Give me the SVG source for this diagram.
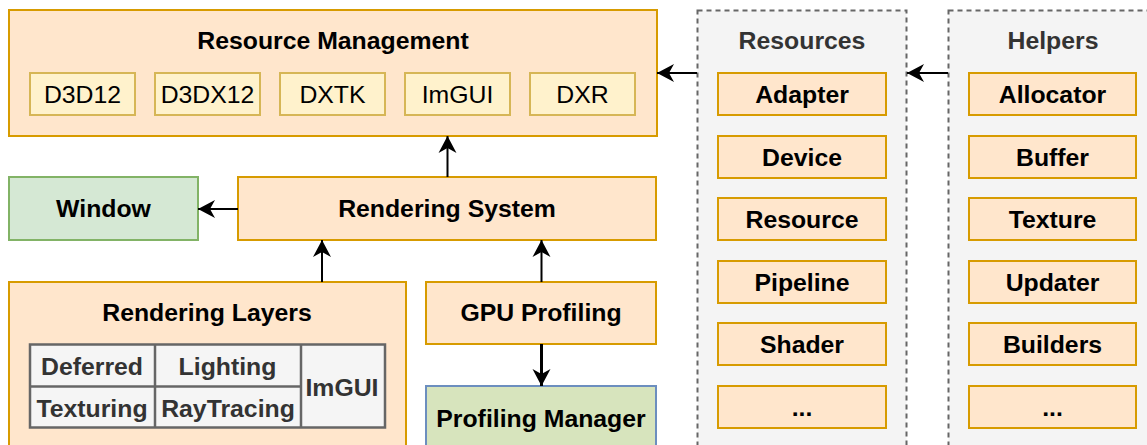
<svg xmlns="http://www.w3.org/2000/svg" width="1147" height="445" viewBox="0 0 1147 445">
<style>
text{font-family:"Liberation Sans",Arial,sans-serif;font-size:24.8px;text-anchor:middle}
.b{font-weight:bold;fill:#000}
.g{font-weight:bold;fill:#333}
.r{fill:#000}
.orange{fill:#ffe6cc;stroke:#d79b00;stroke-width:2}
.yellow{fill:#fff2cc;stroke:#d6b656;stroke-width:2}
.green{fill:#d5e8d4;stroke:#82b366;stroke-width:2}
.pm{fill:#d7e4bd;stroke:#6c8ebf;stroke-width:2}
.cont{fill:#f4f4f4;stroke:#666;stroke-width:2;stroke-dasharray:5 4}
.tbl{fill:#f5f5f5;stroke:#666;stroke-width:2.5}
.conn{fill:none;stroke:#000;stroke-width:2}
</style>
<defs>
<marker id="arr" markerUnits="userSpaceOnUse" markerWidth="20" markerHeight="22" viewBox="-18 -10 20 20" refX="0" refY="0" orient="auto">
<path d="M0,0 L-17,-9 L-12,0 L-17,9 Z" fill="#000"/>
</marker>
</defs>

<g id="resources">
<rect class="cont" x="697.5" y="10.5" width="209" height="450"/>
<text class="g" x="802" y="49">Resources</text>
<rect class="orange" x="718" y="73" width="168" height="42"/><text class="b" x="802" y="103">Adapter</text>
<rect class="orange" x="718" y="136" width="168" height="42"/><text class="b" x="802" y="166">Device</text>
<rect class="orange" x="718" y="198" width="168" height="42"/><text class="b" x="802" y="228">Resource</text>
<rect class="orange" x="718" y="261" width="168" height="42"/><text class="b" x="802" y="291">Pipeline</text>
<rect class="orange" x="718" y="323" width="168" height="42"/><text class="b" x="802" y="353">Shader</text>
<rect class="orange" x="718" y="386" width="168" height="42"/><text class="b" x="802" y="416">...</text>
</g>

<g id="helpers">
<rect class="cont" x="948.5" y="10.5" width="209" height="450"/>
<text class="g" x="1053" y="49">Helpers</text>
<rect class="orange" x="969" y="73" width="167" height="42"/><text class="b" x="1052.5" y="103">Allocator</text>
<rect class="orange" x="969" y="136" width="167" height="42"/><text class="b" x="1052.5" y="166">Buffer</text>
<rect class="orange" x="969" y="198" width="167" height="42"/><text class="b" x="1052.5" y="228">Texture</text>
<rect class="orange" x="969" y="261" width="167" height="42"/><text class="b" x="1052.5" y="291">Updater</text>
<rect class="orange" x="969" y="323" width="167" height="42"/><text class="b" x="1052.5" y="353">Builders</text>
<rect class="orange" x="969" y="386" width="167" height="42"/><text class="b" x="1052.5" y="416">...</text>
</g>

<g id="resource-management">
<rect class="orange" x="9" y="10" width="648" height="126"/>
<text class="b" x="333" y="49">Resource Management</text>
<rect class="yellow" x="30" y="73" width="105" height="42"/><text class="r" x="82.5" y="103">D3D12</text>
<rect class="yellow" x="155" y="73" width="105" height="42"/><text class="r" x="207.5" y="103">D3DX12</text>
<rect class="yellow" x="280" y="73" width="105" height="42"/><text class="r" x="332.5" y="103">DXTK</text>
<rect class="yellow" x="405" y="73" width="105" height="42"/><text class="r" x="457.5" y="103">ImGUI</text>
<rect class="yellow" x="530" y="73" width="105" height="42"/><text class="r" x="582.5" y="103">DXR</text>
</g>

<g id="window">
<rect class="green" x="9" y="177" width="189" height="63"/>
<text class="b" x="103.5" y="216.5">Window</text>
</g>

<g id="rendering-system">
<rect class="orange" x="238" y="177" width="418" height="63"/>
<text class="b" x="447" y="216.5">Rendering System</text>
</g>

<g id="rendering-layers">
<rect class="orange" x="9" y="282" width="397" height="180"/>
<text class="b" x="207" y="321">Rendering Layers</text>
<rect class="tbl" x="30" y="344.5" width="355" height="83"/>
<line class="tbl" x1="155" y1="344.5" x2="155" y2="427.5"/>
<line class="tbl" x1="301" y1="344.5" x2="301" y2="427.5"/>
<line class="tbl" x1="30" y1="386.5" x2="301" y2="386.5"/>
<text class="g" x="92" y="375">Deferred</text>
<text class="g" x="227.5" y="375">Lighting</text>
<text class="g" x="92" y="416.5">Texturing</text>
<text class="g" x="228" y="416.5">RayTracing</text>
<text class="g" x="342" y="396">ImGUI</text>
</g>

<g id="gpu-profiling">
<rect class="orange" x="426" y="282" width="230" height="62"/>
<text class="b" x="541" y="321">GPU Profiling</text>
</g>

<g id="profiling-manager">
<rect class="pm" x="426" y="386" width="230" height="80"/>
<text class="b" x="541" y="426.5">Profiling Manager</text>
</g>

<g id="connectors">
<line class="conn" x1="697" y1="73" x2="657" y2="73" marker-end="url(#arr)"/>
<line class="conn" x1="948" y1="73" x2="907" y2="73" marker-end="url(#arr)"/>
<line class="conn" x1="447.5" y1="177" x2="447.5" y2="136" marker-end="url(#arr)"/>
<line class="conn" x1="238" y1="209" x2="198" y2="209" marker-end="url(#arr)"/>
<line class="conn" x1="322" y1="282" x2="322" y2="240" marker-end="url(#arr)"/>
<line class="conn" x1="541.5" y1="282" x2="541.5" y2="240" marker-end="url(#arr)"/>
<line class="conn" x1="541.5" y1="344" x2="541.5" y2="386" style="stroke-width:3" marker-end="url(#arr)"/>
</g>
</svg>
